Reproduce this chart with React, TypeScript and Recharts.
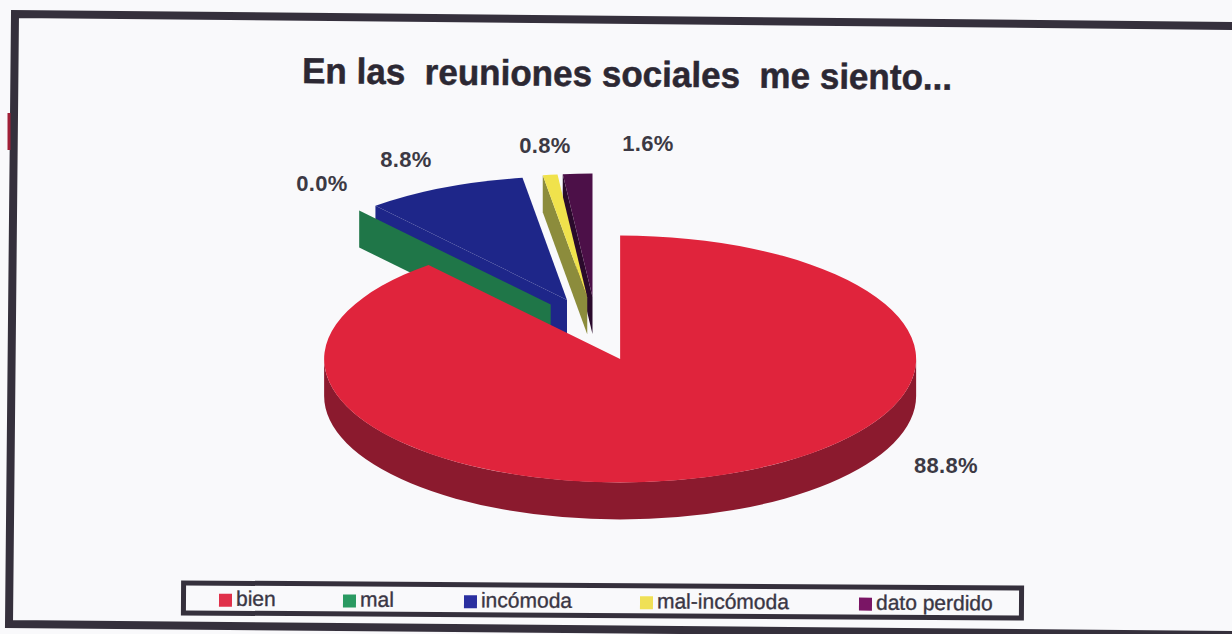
import { Legend, Pie, PieChart } from 'recharts';

const categories = ['bien', 'mal', 'incómoda', 'mal-incómoda', 'dato perdido'];
const shares = [88.8, 0.0, 8.8, 0.8, 1.6];
const topColors = ['#e0243c', '#2a9a62', '#1e2689', '#f0e24c', '#4c1048'];
const wallColors = ['#8b1a2e', '#1f7648', '#1e2689', '#8c8c3c', '#2a0a2c'];
const swatchColors = ['#e0304a', '#2a9a62', '#2a2fa0', '#efe056', '#7a1565'];

const titleText = 'En las  reuniones sociales  me siento...';

// printed label anchors, one per category
const labelAnchors = [
  [946, 473],
  [322, 191],
  [406, 167],
  [545, 153],
  [648, 151],
];
const legendOffsets = [38, 162, 283, 459, 678];

const INK = '#35303c';
const FONT = '"Liberation Sans", Arial, sans-serif';
const WIDTH = 1232;
const HEIGHT = 634;
const RADIUS = 296;
const SQUASH = 0.417;
const DEPTH = 37;
const EXPLODE_X = 70;
const EXPLODE_Y = 32;

// drawn back to front, so the slices go counter-clockwise from the top
const pieRows = categories
  .map((name, i) => ({
    name,
    value: shares[i],
    fill: topColors[i],
    wall: wallColors[i],
    anchor: labelAnchors[i],
  }))
  .reverse();

const rad = (deg: number) => (deg * Math.PI) / 180;

function TiltedSlice(props: any) {
  const { cx, cy, startAngle, endAngle, fill, payload } = props;
  const wall = payload?.wall ?? props.wall;
  const rx = RADIUS;
  const ry = RADIUS * SQUASH;
  const mid = rad((startAngle + endAngle) / 2);
  const ox = cx + EXPLODE_X * Math.cos(mid);
  const oy = cy - EXPLODE_Y * Math.sin(mid);
  const rim = (deg: number, drop = 0) =>
    `${ox + rx * Math.cos(rad(deg))} ${oy - ry * Math.sin(rad(deg)) + drop}`;
  const cutFace = (deg: number) =>
    `M${ox} ${oy}L${rim(deg)}L${rim(deg, DEPTH)}L${ox} ${oy + DEPTH}Z`;

  const large = Math.abs(endAngle - startAngle) > 180 ? 1 : 0;
  const frontFrom = Math.max(startAngle, 180);
  const frontTo = Math.min(endAngle, 360);

  return (
    <g>
      {Math.cos(rad(endAngle)) < -0.001 && <path d={cutFace(endAngle)} fill={wall} />}
      {Math.cos(rad(startAngle)) > 0.001 && <path d={cutFace(startAngle)} fill={wall} />}
      {frontTo > frontFrom && (
        <path
          d={`M${rim(frontFrom)}A${rx} ${ry} 0 0 0 ${rim(frontTo)}L${rim(frontTo, DEPTH)}A${rx} ${ry} 0 0 1 ${rim(frontFrom, DEPTH)}Z`}
          fill={wall}
        />
      )}
      {endAngle > startAngle && (
        <path
          d={`M${ox} ${oy}L${rim(startAngle)}A${rx} ${ry} 0 ${large} 0 ${rim(endAngle)}Z`}
          fill={fill}
        />
      )}
    </g>
  );
}

function PercentLabel(props: any) {
  const { value, payload } = props;
  const anchor = payload?.anchor ?? props.anchor;
  return (
    <text
      x={anchor[0]}
      y={anchor[1]}
      textAnchor="middle"
      fontFamily={FONT}
      fontWeight="bold"
      fontSize={22}
      letterSpacing={0.3}
      fill="#3c3944"
    >
      {`${Number(value).toFixed(1)}%`}
    </text>
  );
}

function LegendBox() {
  return (
    <div
      style={{
        position: 'relative',
        boxSizing: 'border-box',
        width: 843,
        height: 35,
        border: `5px solid ${INK}`,
        fontFamily: FONT,
        fontSize: 21,
        color: '#3a3644',
        WebkitTextStroke: '0.35px #3a3644',
      }}
    >
      {categories.map((name, i) => (
        <span
          key={name}
          style={{
            position: 'absolute',
            left: legendOffsets[i] - 5,
            top: 0,
            height: 25,
            display: 'flex',
            alignItems: 'center',
            whiteSpace: 'nowrap',
          }}
        >
          <i style={{ width: 13, height: 13, marginRight: 4, marginTop: 3, background: swatchColors[i] }} />
          {name}
        </span>
      ))}
    </div>
  );
}

export default function App() {
  return (
    <div
      style={{
        position: 'absolute',
        left: 0,
        top: 0,
        width: WIDTH,
        height: HEIGHT,
        overflow: 'hidden',
        background: '#f9f9fb',
      }}
    >
      <svg width={WIDTH} height={HEIGHT} style={{ position: 'absolute', left: 0, top: 0 }}>
        <polyline
          points="1240,26 15,14 9,624 1240,635"
          fill="none"
          stroke={INK}
          strokeWidth={8}
        />
        <line x1={9} y1={113} x2={9} y2={150} stroke="#a02038" strokeWidth={3} />
      </svg>
      <PieChart width={WIDTH} height={HEIGHT} style={{ position: 'absolute', left: 0, top: 0 }}>
        <text
          x={302}
          y={83}
          fontFamily={FONT}
          fontWeight="bold"
          fontSize={36}
          fill="#2c2833"
          stroke="#2c2833"
          strokeWidth={0.5}
          textLength={650}
          lengthAdjust="spacingAndGlyphs"
          transform="rotate(0.6 302 83)"
          style={{ whiteSpace: 'pre' }}
        >
          {titleText}
        </text>
        <Pie
          data={pieRows}
          dataKey="value"
          nameKey="name"
          cx={591}
          cy={324}
          outerRadius={RADIUS}
          startAngle={90}
          endAngle={450}
          stroke="none"
          shape={TiltedSlice}
          label={PercentLabel}
          labelLine={false}
          isAnimationActive={false}
        />
        <Legend
          content={LegendBox}
          wrapperStyle={{
            position: 'absolute',
            left: 181,
            top: 583,
            width: 843,
            height: 35,
            transform: 'rotate(0.35deg)',
          }}
        />
      </PieChart>
    </div>
  );
}
